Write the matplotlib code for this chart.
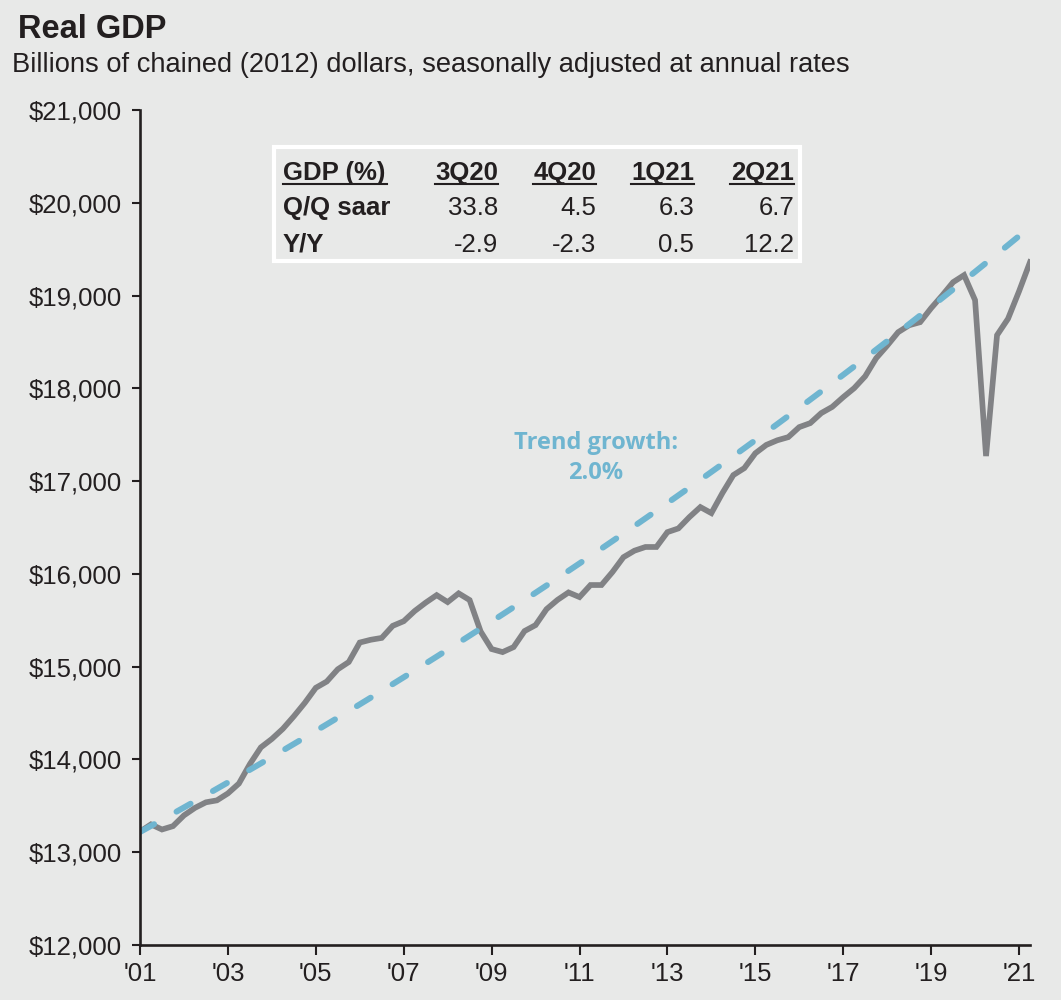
import numpy as np
import matplotlib
matplotlib.use("Agg")
import matplotlib.pyplot as plt
from matplotlib.ticker import FuncFormatter

# Real GDP, billions of chained (2012) dollars, SAAR, 2001Q1 - 2021Q2
start_year = 2001
gdp = [
    13222, 13300, 13245, 13281,   # 2001
    13397, 13478, 13538, 13559,   # 2002
    13634, 13740, 13950, 14130,   # 2003
    14221, 14330, 14465, 14610,   # 2004
    14772, 14840, 14972, 15050,   # 2005
    15260, 15290, 15310, 15440,   # 2006
    15490, 15600, 15690, 15771,   # 2007
    15696, 15790, 15718, 15380,   # 2008
    15190, 15157, 15211, 15384,   # 2009
    15448, 15620, 15720, 15800,   # 2010
    15750, 15880, 15880, 16020,   # 2011
    16180, 16250, 16290, 16290,   # 2012
    16450, 16490, 16612, 16720,   # 2013
    16655, 16870, 17065, 17140,   # 2014
    17300, 17390, 17440, 17474,   # 2015
    17582, 17625, 17733, 17800,   # 2016
    17905, 18002, 18130, 18325,   # 2017
    18460, 18605, 18680, 18713,   # 2018
    18864, 19000, 19144, 19220,   # 2019
    18951, 17270, 18573, 18750,   # 2020
    19045, 19360,                 # 2021
]
trend_rate = 0.020           # annual trend growth
trend_base = 13218           # trend level at 2001Q1

table_cols = ["GDP (%)", "3Q20", "4Q20", "1Q21", "2Q21"]
table_rows = ["Q/Q saar", "Y/Y"]
qq_saar = ["33.8", "4.5", "6.3", "6.7"]
yoy = ["-2.9", "-2.3", "0.5", "12.2"]

y_ticks = [12000, 13000, 14000, 15000, 16000, 17000, 18000, 19000, 20000, 21000]
x_ticks = list(range(2001, 2022, 2))
x_labels = ["'01", "'03", "'05", "'07", "'09", "'11", "'13", "'15", "'17", "'19", "'21"]

BG = "#e8e9e8"
GRAY = "#818285"
BLUE = "#6fb5d0"
DARK = "#231f20"

plt.rcParams["font.family"] = ["Liberation Sans", "DejaVu Sans"]

W, H = 1061, 1000
def fx(px):
    return px / W
def fy(py):
    return 1 - py / H

t = start_year + np.arange(len(gdp)) * 0.25
trend = trend_base * (1 + trend_rate) ** (t - start_year)

fig = plt.figure(figsize=(W / 100, H / 100), dpi=100, facecolor=BG)
ax = fig.add_axes([fx(140), fy(945), fx(1030) - fx(140), fy(110) - fy(945)], facecolor=BG)

ax.plot(t, trend, color=BLUE, lw=4.3, dashes=(2.7, 4.3), dash_capstyle="round",
        solid_capstyle="round", zorder=3)
ax.plot(t, gdp, color=GRAY, lw=4.1, solid_joinstyle="miter", zorder=2)

ax.set_xlim(start_year, t[-1])
ax.set_ylim(12000, 21000)
ax.set_yticks(y_ticks)
ax.yaxis.set_major_formatter(FuncFormatter(lambda v, p: f"${v:,.0f}"))
ax.set_xticks(x_ticks)
ax.set_xticklabels(x_labels)

for side in ("top", "right"):
    ax.spines[side].set_visible(False)
for side in ("left", "bottom"):
    ax.spines[side].set_color(DARK)
    ax.spines[side].set_linewidth(1.9)
    ax.spines[side].set_zorder(4)
ax.tick_params(axis="y", direction="out", length=6, width=1.5, color=DARK,
               labelsize=18.5, labelcolor=DARK, pad=7)
ax.tick_params(axis="x", direction="out", length=7, width=1.5, color=DARK,
               labelsize=18.5, labelcolor=DARK, pad=5)

# Titles
fig.text(fx(18), fy(38), "Real GDP", fontsize=23.5, fontweight="bold",
         color=DARK, ha="left", va="baseline")
fig.text(fx(12), fy(72),
         "Billions of chained (2012) dollars, seasonally adjusted at annual rates",
         fontsize=19.6, color=DARK, ha="left", va="baseline")

# Trend annotation
for txt, yb in (("Trend growth:", 449), ("2.0%", 479)):
    fig.text(fx(596), fy(yb), txt, fontsize=17, fontweight="bold", color=BLUE,
             ha="center", va="baseline", family=["Open Sans", "DejaVu Sans"])

# Summary table in a white-bordered box
box = plt.Rectangle((fx(274), fy(261)), fx(800) - fx(274), fy(147) - fy(261),
                    transform=fig.transFigure, facecolor=BG, edgecolor="white",
                    lw=3, zorder=5)
fig.patches.append(box)

col_right = [None, 498, 596, 694, 794]
hdr_left = [283, 435, 533, 631, 730]
rows_y = [180, 215, 252]
fs_tab = 18.5
fig.text(fx(283), fy(rows_y[0]), table_cols[0], fontsize=fs_tab, fontweight="bold",
         color=DARK, ha="left", va="baseline", zorder=6)
for j in range(1, 5):
    fig.text(fx(col_right[j]), fy(rows_y[0]), table_cols[j], fontsize=fs_tab,
             fontweight="bold", color=DARK, ha="right", va="baseline", zorder=6)
underline_right = [387] + col_right[1:]
for j in range(5):
    ln = plt.Line2D([fx(hdr_left[j]), fx(underline_right[j])], [fy(183.5)] * 2,
                    color=DARK, lw=1.5, transform=fig.transFigure, zorder=7)
    fig.add_artist(ln)
for i, (name, vals) in enumerate(zip(table_rows, [qq_saar, yoy])):
    yb = fy(rows_y[i + 1])
    fig.text(fx(283), yb, name, fontsize=fs_tab, fontweight="bold", color=DARK,
             ha="left", va="baseline", zorder=6)
    for j, v in enumerate(vals):
        fig.text(fx(col_right[j + 1]), yb, v, fontsize=fs_tab, color=DARK,
                 ha="right", va="baseline", zorder=6)

fig.savefig("out.png", dpi=100, facecolor=BG)
